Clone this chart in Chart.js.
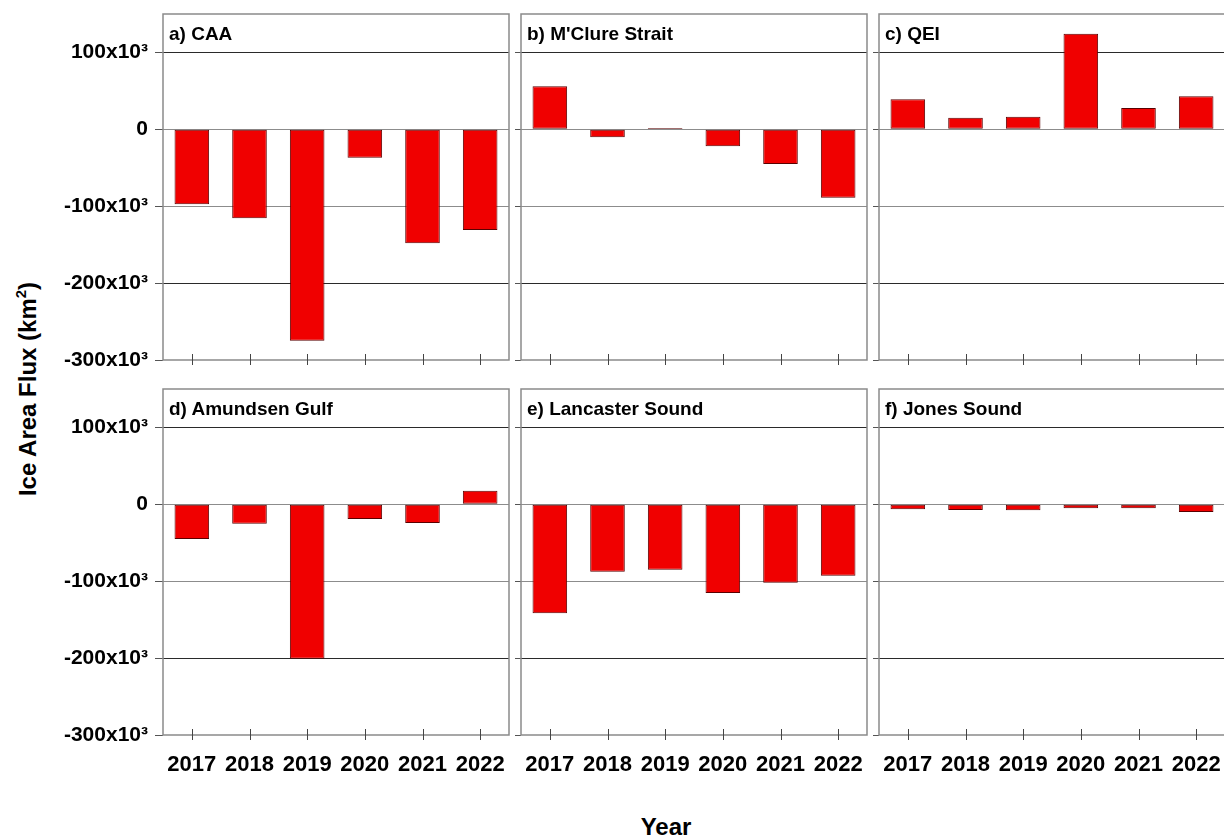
<!DOCTYPE html>
<html>
<head>
<meta charset="utf-8">
<script src="https://cdn.jsdelivr.net/npm/chart.js@4.4.1/dist/chart.umd.min.js"></script>
<style>
    body { margin: 0; background: #fff; }
    #figure {
        position: relative;
        width: 1224px;
        height: 839px;
        overflow: hidden;
        background: #fff;
        font-family: "Liberation Sans", Arial, sans-serif;
        color: #000;
    }
    #figure canvas { position: absolute; }
    .panel-label {
        position: absolute;
        font-size: 19px;
        font-weight: bold;
        line-height: 1;
        white-space: nowrap;
    }
    .axis-title {
        position: absolute;
        font-size: 24px;
        font-weight: bold;
        line-height: 1;
        white-space: nowrap;
    }
    #y-title { left: 28px; top: 389px; transform: translate(-50%, -50%) rotate(-90deg); }
    #y-title sup { font-size: 0.62em; position: relative; top: -0.15em; vertical-align: top; }
    #x-title { left: 666px; top: 815px; transform: translateX(-50%); }
</style>
</head>
<body>
<div id="figure">
    <div class="axis-title" id="y-title">Ice Area Flux (km<sup>2</sup>)</div>
    <div class="axis-title" id="x-title">Year</div>
</div>
<script>
// Annual ice area flux per region (km²)
const YEARS     = ['2017', '2018', '2019', '2020', '2021', '2022'];
const CAA       = [-97500, -115700, -275000, -37000, -148300, -131000];
const MCLURE    = [56000, -10400, 1700, -22100, -45100, -88900];
const QEI       = [39000, 15100, 16400, 124300, 27700, 42900];
const AMUNDSEN  = [-45100, -25200, -200800, -19100, -24300, 17700];
const LANCASTER = [-141700, -87600, -85000, -115300, -101900, -92800];
const JONES     = [-6500, -7400, -7800, -5200, -5200, -10000];
const Y_TICKS   = [-300000, -200000, -100000, 0, 100000];
const Y_MIN = -300000;
const Y_MAX = 150000;

// ── Panel grid ─────────────────────────────────────────────────────────────
const PANELS = [
    { label: 'a) CAA',             values: CAA,       col: 0, row: 0 },
    { label: "b) M'Clure Strait",  values: MCLURE,    col: 1, row: 0 },
    { label: 'c) QEI',             values: QEI,       col: 2, row: 0 },
    { label: 'd) Amundsen Gulf',   values: AMUNDSEN,  col: 0, row: 1 },
    { label: 'e) Lancaster Sound', values: LANCASTER, col: 1, row: 1 },
    { label: 'f) Jones Sound',     values: JONES,     col: 2, row: 1 },
];

const COL_LEFT = [163, 521, 879];
const ROW_TOP  = [14, 389];
const PANEL_W  = 346;
const PANEL_H  = 346;
const PAD      = 4;

const BAR_RED    = '#f00000';
const BAR_BORDER = '#5a0000';
const FONT = '"Liberation Sans", Arial, sans-serif';

function yLabel(v) {
    return v === 0 ? '0' : `${v / 1000}x10³`;
}

function gridColor(v) {
    if (v === Y_MIN) return 'rgba(0,0,0,0)';
    return (v === 0 || v === -100000) ? '#8c8c8c' : '#2a2a2a';
}

// labels may hang over the plot edges; keep the plot box fixed anyway
function noOverhang(s) {
    s.paddingTop = 0;
    s.paddingBottom = 0;
    s.paddingLeft = 0;
    s.paddingRight = 0;
}

// frame around the plot area plus x tick marks crossing the bottom edge
const panelFrame = {
    id: 'panelFrame',
    afterDraw(chart) {
        const { ctx, chartArea: a } = chart;
        const x = chart.scales.x;
        ctx.save();
        ctx.strokeStyle = '#8a8a8a';
        ctx.lineWidth = 1.5;
        ctx.strokeRect(a.left, a.top, a.right - a.left, a.bottom - a.top);
        ctx.strokeStyle = '#444';
        ctx.lineWidth = 1;
        x.ticks.forEach((_, i) => {
            const px = Math.round(x.getPixelForTick(i)) + 0.5;
            ctx.beginPath();
            ctx.moveTo(px, a.bottom - 6);
            ctx.lineTo(px, a.bottom + 5);
            ctx.stroke();
        });
        ctx.restore();
    },
};

const figure = document.getElementById('figure');

PANELS.forEach(({ label, values, col, row }) => {
    const padL = col === 0 ? 163 : 10;
    const padB = row === 1 ? 60 : 12;
    const left = COL_LEFT[col];
    const top = ROW_TOP[row];

    const canvas = document.createElement('canvas');
    canvas.width = padL + PANEL_W + PAD;
    canvas.height = PAD + PANEL_H + padB;
    canvas.style.left = `${left - padL}px`;
    canvas.style.top = `${top - PAD}px`;
    figure.appendChild(canvas);

    const tag = document.createElement('div');
    tag.className = 'panel-label';
    tag.textContent = label;
    tag.style.left = `${left + 6}px`;
    tag.style.top = `${top + 10}px`;
    figure.appendChild(tag);

    new Chart(canvas, {
        type: 'bar',
        data: {
            labels: YEARS,
            datasets: [{
                data: values,
                backgroundColor: BAR_RED,
                borderColor: BAR_BORDER,
                borderWidth: 1,
                borderSkipped: false,
                barPercentage: 0.6,
                categoryPercentage: 1,
            }],
        },
        options: {
            responsive: false,
            animation: false,
            devicePixelRatio: 1,
            layout: { padding: { top: PAD, right: PAD, left: 0, bottom: 0 } },
            plugins: {
                legend: { display: false },
                tooltip: { enabled: false },
            },
            scales: {
                x: {
                    type: 'category',
                    grid: { display: false },
                    border: { display: false },
                    ticks: {
                        display: row === 1,
                        color: '#000',
                        font: { family: FONT, size: 22, weight: 'bold' },
                        padding: 9,
                        maxRotation: 0,
                        autoSkip: false,
                    },
                    afterFit: s => { s.height = padB; noOverhang(s); },
                },
                y: {
                    min: Y_MIN,
                    max: Y_MAX,
                    afterBuildTicks: s => { s.ticks = Y_TICKS.map(v => ({ value: v })); },
                    grid: {
                        color: c => gridColor(c.tick.value),
                        tickColor: '#555',
                        tickLength: col === 0 ? 8 : 6,
                        lineWidth: 1,
                    },
                    border: { display: false },
                    ticks: {
                        display: col === 0,
                        color: '#000',
                        font: { family: FONT, size: 21, weight: 'bold' },
                        padding: 7,
                        callback: v => yLabel(v),
                    },
                    afterFit: s => { s.width = padL; noOverhang(s); },
                },
            },
        },
        plugins: [panelFrame],
    });
});
</script>
</body>
</html>
